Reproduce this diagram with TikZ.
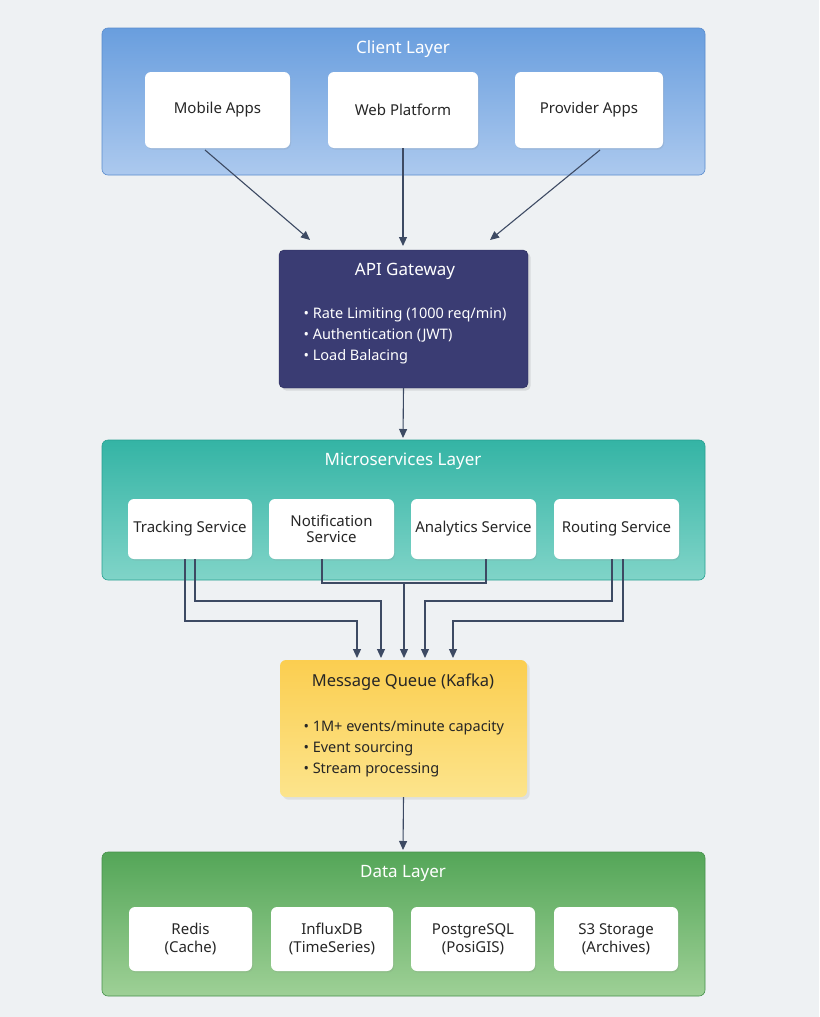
\documentclass[tikz,border=0pt]{standalone}
\usepackage{fontspec}
\setmainfont{Noto Sans}
\usetikzlibrary{shadows,arrows.meta}
\definecolor{bg}{HTML}{EEF1F3}
\definecolor{arr}{HTML}{3D4A63}
\definecolor{cTop}{HTML}{699EDE}
\definecolor{cBot}{HTML}{ACC9EE}
\definecolor{cLine}{HTML}{5A8CCD}
\definecolor{apiF}{HTML}{3A3C73}
\definecolor{apiD}{HTML}{282A5A}
\definecolor{mTop}{HTML}{34B4A5}
\definecolor{mBot}{HTML}{80D4C8}
\definecolor{mLine}{HTML}{28A091}
\definecolor{qTop}{HTML}{FBCE50}
\definecolor{qBot}{HTML}{FCE48C}
\definecolor{dTop}{HTML}{54A658}
\definecolor{dBot}{HTML}{9ED096}
\definecolor{dLine}{HTML}{46914B}
\tikzset{
 box/.style={fill=white,rounded corners=6pt,drop shadow={opacity=0.15,shadow xshift=1pt,shadow yshift=-1.5pt},align=center,font=\fontsize{15}{18}\selectfont,text=black!85},
 ttl/.style={text=white,font=\fontsize{17}{20}\selectfont},
 bul/.style={align=left,anchor=north west,font=\fontsize{14.5}{21}\selectfont},
 ar/.style={draw=arr,line width=1.1pt,-{Triangle[length=9pt,width=8pt]}},
 ln/.style={draw=arr,line width=1.1pt}
}
\begin{document}
\begin{tikzpicture}[x=1pt,y=-1pt]
\fill[bg] (0,0) rectangle (819,1017);
\useasboundingbox (0,0) rectangle (819,1017);
% client layer
\shade[top color=cTop,bottom color=cBot,rounded corners=6pt] (102,28) rectangle (705,175);
\draw[cLine,line width=0.6pt,rounded corners=6pt] (102,28) rectangle (705,175);
\node[ttl] (ct) at (403,49) {Client Layer};
\node[box,minimum width=145,minimum height=76] (mob) at (217.5,110) {Mobile Apps};
\node[box,minimum width=150,minimum height=76] (web) at (403,110) {Web Platform};
\node[box,minimum width=148,minimum height=76] (prov) at (589,110) {Provider Apps};
% API gateway
\node[fill=apiF,draw=apiD,rounded corners=5pt,minimum width=249,minimum height=138,drop shadow={opacity=0.2}] (api) at (403.5,319) {};
\node[text=white,font=\fontsize{17}{20}\selectfont] (apit) at (405,271) {API Gateway};
\node[bul,text=white] (apib) at (300,304) {• Rate Limiting (1000 req/min)\\• Authentication (JWT)\\• Load Balacing};
% arrows client->api
\coordinate (m1) at (205,150); \coordinate (a1) at (310,240);
\coordinate (p1) at (600,150); \coordinate (a3) at (490,240);
\coordinate (a2) at (403,246);
\draw[ar] (m1) -- (a1);
\draw[ar] (web.south) -- (a2);
\draw[ar] (p1) -- (a3);
% microservices
\shade[top color=mTop,bottom color=mBot,rounded corners=6pt] (102,440) rectangle (705,580);
\draw[mLine,line width=0.6pt,rounded corners=6pt] (102,440) rectangle (705,580);
\node[ttl] (mt) at (403,461) {Microservices Layer};
\coordinate (ms) at (403,438);
\draw[ar] (api.south) -- (ms);
\node[box,minimum width=124,minimum height=60] (trk) at (190,529) {Tracking Service};
\node[box,minimum width=125,minimum height=60] (not) at (331.5,529) {Notification\\[-2pt]Service};
\node[box,minimum width=125,minimum height=60] (ana) at (473.5,529) {Analytics Service};
\node[box,minimum width=125,minimum height=60] (rou) at (616.5,529) {Routing Service};
% queue
\node[top color=qTop,bottom color=qBot,rounded corners=6pt,minimum width=247,minimum height=137,drop shadow={opacity=0.15}] (q) at (403.5,728.5) {};
\node[font=\fontsize{16.5}{20}\selectfont,text=black!85] (qt) at (403,682) {Message Queue (Kafka)};
\node[bul,text=black!85] (qb) at (300,717) {• 1M+ events/minute capacity\\• Event sourcing\\• Stream processing};
% connectors
\coordinate (t1) at (185,559); \coordinate (t2) at (195,559);
\coordinate (n1) at (322,559); \coordinate (an1) at (486,559);
\coordinate (r1) at (612,559); \coordinate (r2) at (623,559);
\coordinate (j) at (404,583);
\coordinate (e1) at (357,658); \coordinate (e2) at (381,658);
\coordinate (e3) at (404,658); \coordinate (e4) at (425,658);
\coordinate (e5) at (453,658);
\draw[ar] (t1) |- (357,621) -- (e1);
\draw[ar] (t2) |- (381,601) -- (e2);
\draw[ln] (n1) |- (486,583) -- (an1);
\draw[ar] (j) -- (e3);
\draw[ar] (r1) |- (425,601) -- (e4);
\draw[ar] (r2) |- (453,621) -- (e5);
% data layer
\shade[top color=dTop,bottom color=dBot,rounded corners=6pt] (102,852) rectangle (705,996);
\draw[dLine,line width=0.6pt,rounded corners=6pt] (102,852) rectangle (705,996);
\coordinate (dl) at (403,850);
\draw[ar] (q.south) -- (dl);
\node[ttl] (dt) at (403,873) {Data Layer};
\node[box,minimum width=123,minimum height=64] (red) at (190.5,939) {Redis\\(Cache)};
\node[box,minimum width=122,minimum height=64] (inf) at (332,939) {InfluxDB\\(TimeSeries)};
\node[box,minimum width=124,minimum height=64] (pg) at (473,939) {PostgreSQL\\(PosiGIS)};
\node[box,minimum width=124,minimum height=64] (s3) at (616,939) {S3 Storage\\(Archives)};
\end{tikzpicture}
\end{document}
